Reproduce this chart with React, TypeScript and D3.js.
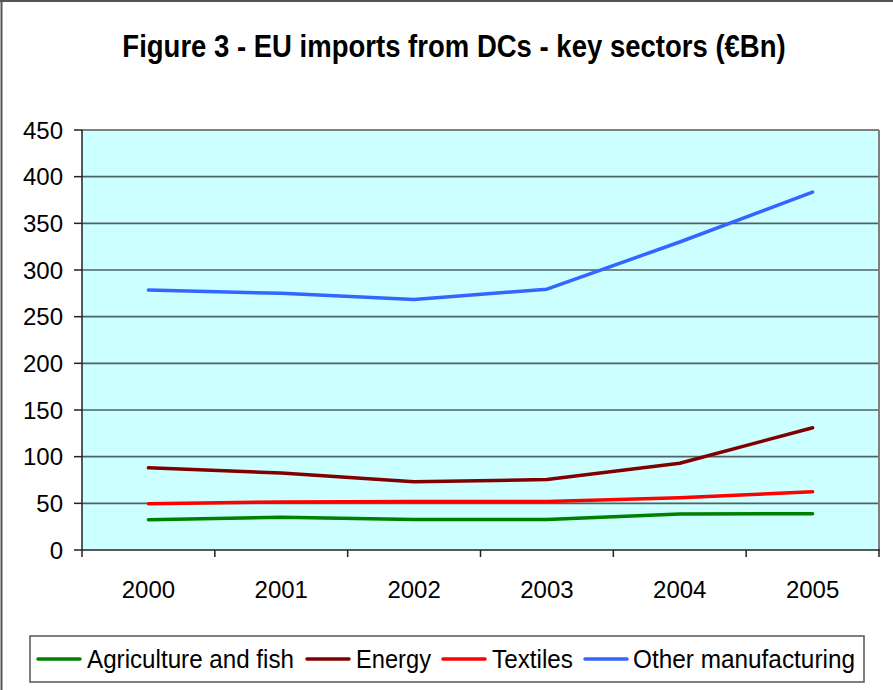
import React from "react";
import * as d3 from "d3";

const years = ["2000", "2001", "2002", "2003", "2004", "2005"];
const agriculture = [32.5, 35, 32.8, 32.8, 38.6, 38.9];
const energy = [88, 82.5, 73, 75.5, 93, 131];
const textiles = [49.5, 51.5, 52, 52, 56, 62.5];
const otherManufacturing = [278.5, 275, 268.5, 279.5, 330, 383.5];
const yTicks = [0, 50, 100, 150, 200, 250, 300, 350, 400, 450];

const seriesNames = ["Agriculture and fish", "Energy", "Textiles", "Other manufacturing"];
const seriesColors = ["#008000", "#800000", "#FF0000", "#3366FF"];
const seriesValues = [agriculture, energy, textiles, otherManufacturing];

const W = 893;
const H = 690;
const PL = 82, PR = 879, PT = 130, PB = 550;

export default function App() {
  const x = d3.scaleBand<string>().domain(years).range([PL, PR]).padding(0);
  const y = d3.scaleLinear().domain([0, 450]).range([PB, PT]);
  const line = d3
    .line<number>()
    .x((_, i) => (x(years[i]) as number) + x.bandwidth() / 2)
    .y((v) => y(v));

  const font = "'Liberation Sans', Arial, sans-serif";

  const legendItems = [
    { lx: 38, tx: 87, w: 207 },
    { lx: 307, tx: 356, w: 75 },
    { lx: 443, tx: 492, w: 81 },
    { lx: 585, tx: 633, w: 222 },
  ];

  return (
    <svg
      width={W}
      height={H}
      style={{ position: "absolute", left: 0, top: 0, background: "#fff" }}
      fontFamily={font}
    >
      <rect x={0} y={0} width={W} height={H} fill="#fff" />
      <line x1={1.5} y1={0} x2={1.5} y2={H} stroke="#555" strokeWidth={2} />
      <line x1={0} y1={1} x2={W} y2={1} stroke="#555" strokeWidth={2} />

      <g transform="translate(454,57) scale(0.86,1)">
        <text x={0} y={0} fontSize={32} fontWeight="bold" textAnchor="middle" fill="#000">
          Figure 3 - EU imports from DCs - key sectors (€Bn)
        </text>
      </g>

      <rect x={PL} y={PT} width={PR - PL} height={PB - PT} fill="#CCFFFF" />
      {yTicks.slice(1).map((t) => (
        <line key={t} x1={PL} x2={PR} y1={y(t)} y2={y(t)} stroke="#4f6262" strokeWidth={1.6} />
      ))}
      <line x1={PR} x2={PR} y1={PT} y2={PB} stroke="#808080" strokeWidth={2} />
      <line x1={PL} x2={PR} y1={PT} y2={PT} stroke="#808080" strokeWidth={2} />
      <line x1={PL} x2={PL} y1={PT} y2={PB} stroke="#222" strokeWidth={1.5} />
      <line x1={PL} x2={PR + 1} y1={PB} y2={PB} stroke="#222" strokeWidth={1.5} />

      {yTicks.map((t) => (
        <g key={t}>
          <line x1={PL - 8} x2={PL} y1={y(t)} y2={y(t)} stroke="#222" strokeWidth={1.5} />
          <text x={63} y={y(t)} dy="0.36em" fontSize={24} textAnchor="end" fill="#000">
            {t}
          </text>
        </g>
      ))}

      {years.map((yr, i) => (
        <g key={yr}>
          <line
            x1={(x(yr) as number)}
            x2={(x(yr) as number)}
            y1={PB}
            y2={PB + 7}
            stroke="#222"
            strokeWidth={1.5}
          />
          {i === years.length - 1 && (
            <line x1={PR} x2={PR} y1={PB} y2={PB + 7} stroke="#222" strokeWidth={1.5} />
          )}
          <text
            x={(x(yr) as number) + x.bandwidth() / 2}
            y={598}
            fontSize={24}
            textAnchor="middle"
            fill="#000"
          >
            {yr}
          </text>
        </g>
      ))}

      {seriesValues.map((vals, i) => (
        <path
          key={seriesNames[i]}
          d={line(vals) || ""}
          fill="none"
          stroke={seriesColors[i]}
          strokeWidth={3.5}
          strokeLinecap="round"
          strokeLinejoin="round"
        />
      ))}

      <rect x={30} y={636} width={834} height={46} fill="#fff" stroke="#555" strokeWidth={1.5} />
      {seriesNames.map((name, i) => (
        <g key={name}>
          <line
            x1={legendItems[i].lx}
            x2={legendItems[i].lx + 42}
            y1={659}
            y2={659}
            stroke={seriesColors[i]}
            strokeWidth={3.5}
            strokeLinecap="round"
          />
          <text
            x={legendItems[i].tx}
            y={668}
            fontSize={25}
            textLength={legendItems[i].w}
            lengthAdjust="spacingAndGlyphs"
            fill="#000"
          >
            {name}
          </text>
        </g>
      ))}
    </svg>
  );
}
